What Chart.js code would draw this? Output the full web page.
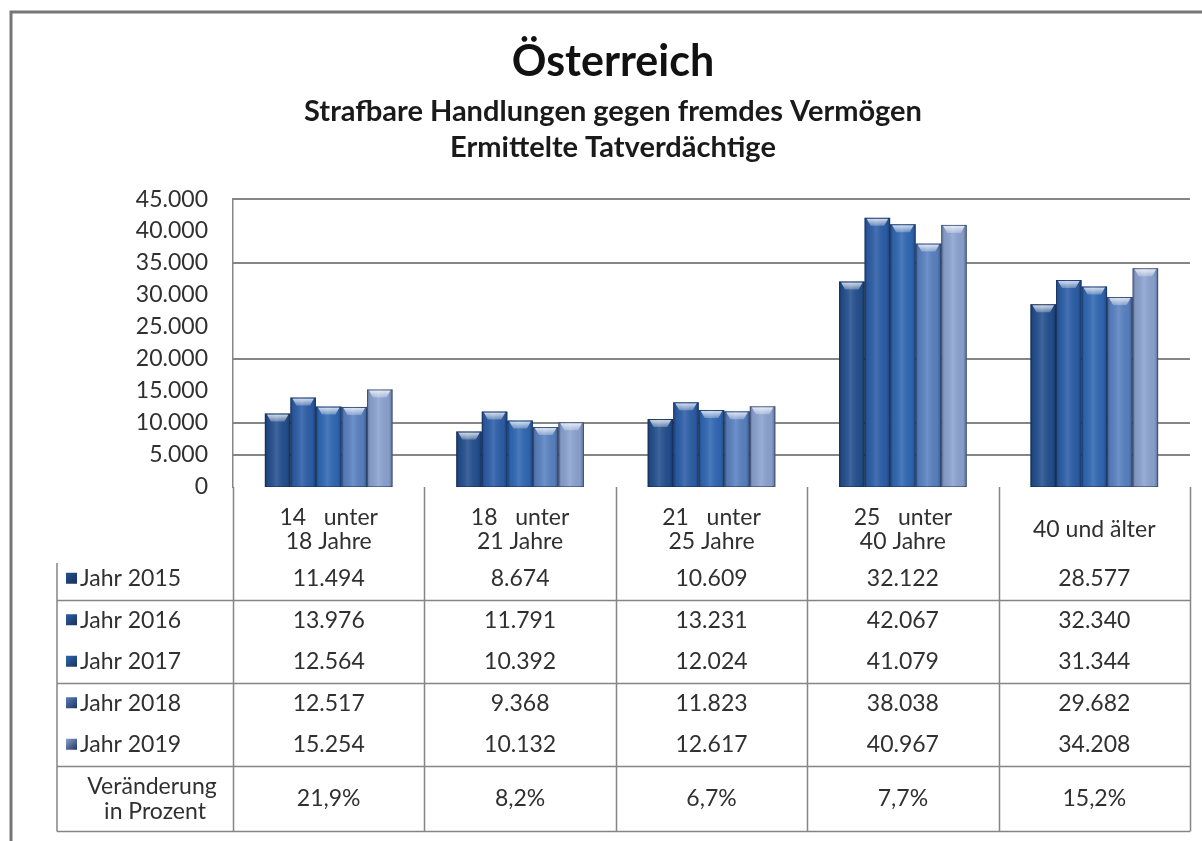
<!DOCTYPE html>
<html lang="de">
<head>
<meta charset="utf-8">
<title>Österreich – Strafbare Handlungen gegen fremdes Vermögen</title>
<script src="https://cdn.jsdelivr.net/npm/chart.js@4/dist/chart.umd.min.js"></script>
<style>
  html, body { margin: 0; padding: 0; background: #fff; }
  #chartBox { width: 1202px; height: 841px; }
</style>
</head>
<body>
<div id="chartBox"><canvas id="tatChart" width="1202" height="841"></canvas></div>
<script>
// age groups (x categories)
var categories = [
  ["14   unter", "18 Jahre"],
  ["18   unter", "21 Jahre"],
  ["21   unter", "25 Jahre"],
  ["25   unter", "40 Jahre"],
  ["40 und älter"]
];
var years = ["Jahr 2015", "Jahr 2016", "Jahr 2017", "Jahr 2018", "Jahr 2019"];

// Tatverdächtige per year
var values2015 = [11494, 8674, 10609, 32122, 28577];
var values2016 = [13976, 11791, 13231, 42067, 32340];
var values2017 = [12564, 10392, 12024, 41079, 31344];
var values2018 = [12517, 9368, 11823, 38038, 29682];
var values2019 = [15254, 10132, 12617, 40967, 34208];

// last table row
var changeLabel = ["Veränderung", "in Prozent"];
var changePercent = ["21,9%", "8,2%", "6,7%", "7,7%", "15,2%"];

// y axis
var yMax = 45000;
var yStep = 5000;
var gridShown = [5000, 10000, 20000, 35000, 45000];

var barColors = ["#24508f", "#2c5ea8", "#3068b4", "#5982c2", "#8ba3d1"];
var FONT = "Lato, 'Open Sans', sans-serif";
var TEXT = "#303030";
var LINE = "#858585";
var PAD_LEFT = 36;

function fmt(v) {
  return String(v).replace(/\B(?=(\d{3})+(?!\d))/g, ".");
}

var series = [values2015, values2016, values2017, values2018, values2019];

// outer frame (left and top edge)
var framePlugin = {
  id: "frame",
  beforeDraw: function(chart) {
    var c = chart.ctx;
    c.save();
    c.fillStyle = "#fff";
    c.fillRect(0, 0, chart.width, chart.height);
    c.strokeStyle = "#767676";
    c.lineWidth = 3;
    c.beginPath();
    c.moveTo(11, chart.height);
    c.lineTo(11, 12);
    c.lineTo(chart.width, 12);
    c.stroke();
    c.restore();
  }
};

// horizontal value lines, only some of the ticks get one
var gridPlugin = {
  id: "valueLines",
  beforeDatasetsDraw: function(chart) {
    var c = chart.ctx, y = chart.scales.y, area = chart.chartArea;
    c.save();
    c.strokeStyle = LINE;
    c.lineWidth = 1.8;
    c.beginPath();
    gridShown.forEach(function(v) {
      var py = Math.round(y.getPixelForValue(v));
      c.moveTo(area.left, py);
      c.lineTo(area.right, py);
    });
    c.stroke();
    c.restore();
  }
};

// glassy shading + bevelled top on every bar
var bevelPlugin = {
  id: "bevel",
  afterDatasetsDraw: function(chart) {
    var c = chart.ctx;
    c.save();
    chart.data.datasets.forEach(function(ds, di) {
      chart.getDatasetMeta(di).data.forEach(function(bar) {
        var p = bar.getProps(["x", "y", "base", "width"], true);
        var l = p.x - p.width / 2, r = p.x + p.width / 2, t = p.y, h = p.base - p.y;
        var g = c.createLinearGradient(l, 0, r, 0);
        g.addColorStop(0, "rgba(0,0,0,0.30)");
        g.addColorStop(0.12, "rgba(0,0,0,0.06)");
        g.addColorStop(0.45, "rgba(255,255,255,0.12)");
        g.addColorStop(0.85, "rgba(0,0,0,0.04)");
        g.addColorStop(1, "rgba(0,0,0,0.32)");
        c.fillStyle = g;
        c.fillRect(l, t, p.width, h);

        var cap = c.createLinearGradient(0, t, 0, t + 8);
        cap.addColorStop(0, "rgba(255,255,255,0.85)");
        cap.addColorStop(1, "rgba(255,255,255,0.25)");
        c.fillStyle = cap;
        c.beginPath();
        c.moveTo(l + 2, t + 1);
        c.lineTo(r - 2, t + 1);
        c.lineTo(r - 6, t + 8);
        c.lineTo(l + 6, t + 8);
        c.closePath();
        c.fill();

        c.strokeStyle = "rgba(20,35,70,0.45)";
        c.lineWidth = 1;
        c.strokeRect(l + 0.5, t + 0.5, p.width - 1, h - 1);
      });
    });
    c.restore();
  }
};

// data table under the plot, columns follow the x scale
var tablePlugin = {
  id: "dataTable",
  afterDraw: function(chart) {
    var c = chart.ctx;
    var x = chart.scales.x;
    var area = chart.chartArea;
    var colW = (area.right - area.left) / categories.length;
    var top = area.bottom;
    var rowTop = top + 71, rowH = 41.5;
    var bottom = rowTop + rowH * years.length + 66;
    var tableLeft = 57;

    c.save();
    c.strokeStyle = LINE;
    c.lineWidth = 1.5;
    c.beginPath();
    for (var i = 0; i <= categories.length; i++) {
      var vx = Math.round(area.left + i * colW) + 0.5;
      c.moveTo(vx, top);
      c.lineTo(vx, bottom);
    }
    c.moveTo(tableLeft, rowTop + 5);
    c.lineTo(tableLeft, bottom);
    [1, 3, 5].forEach(function(r) {
      var hy = Math.round(rowTop + r * rowH) + 0.5;
      c.moveTo(tableLeft, hy);
      c.lineTo(area.right, hy);
    });
    c.moveTo(tableLeft, bottom);
    c.lineTo(area.right, bottom);
    c.stroke();

    c.fillStyle = TEXT;
    c.font = "23px " + FONT;
    c.textAlign = "center";
    c.textBaseline = "middle";

    // category header
    categories.forEach(function(lines, ci) {
      var cx = x.getPixelForValue(ci);
      if (lines.length === 1) {
        c.fillText(lines[0], cx, top + 43);
      } else {
        c.fillText(lines[0], cx, top + 31);
        c.fillText(lines[1], cx, top + 55);
      }
    });

    // year rows
    years.forEach(function(label, ri) {
      var cy = rowTop + ri * rowH + rowH / 2;
      var mg = c.createLinearGradient(66, cy - 6, 77, cy + 6);
      mg.addColorStop(0, barColors[ri]);
      mg.addColorStop(1, "#1a2f55");
      c.fillStyle = mg;
      c.fillRect(66, cy - 6, 11, 11);
      c.fillStyle = TEXT;
      c.textAlign = "left";
      c.fillText(label, 80, cy);
      c.textAlign = "center";
      series[ri].forEach(function(v, ci) {
        c.fillText(fmt(v), x.getPixelForValue(ci), cy);
      });
    });

    // change row
    var chY = rowTop + rowH * years.length + 33;
    c.fillText(changeLabel[0], 152, chY - 12);
    c.fillText(changeLabel[1], 155, chY + 13);
    changePercent.forEach(function(t, ci) {
      c.fillText(t, x.getPixelForValue(ci), chY);
    });
    c.restore();
  }
};

var datasets = years.map(function(y, i) {
  return {
    label: y,
    data: series[i],
    backgroundColor: barColors[i],
    borderWidth: 0,
    categoryPercentage: 0.667,
    barPercentage: 1
  };
});

new Chart(document.getElementById("tatChart").getContext("2d"), {
  type: "bar",
  data: { labels: categories, datasets: datasets },
  plugins: [framePlugin, gridPlugin, bevelPlugin, tablePlugin],
  options: {
    responsive: false,
    devicePixelRatio: 1,
    animation: false,
    layout: { padding: { left: PAD_LEFT, right: 12, top: 0, bottom: 354 } },
    plugins: {
      legend: { display: false },
      tooltip: { enabled: false },
      title: {
        display: true,
        text: "Österreich",
        color: "#111",
        font: { family: FONT, size: 43, weight: "bold", lineHeight: 1.12 },
        padding: { top: 38, bottom: 0 }
      },
      subtitle: {
        display: true,
        text: ["Strafbare Handlungen gegen fremdes Vermögen", "Ermittelte Tatverdächtige"],
        color: "#1a1a1a",
        font: { family: FONT, size: 29, weight: "bold", lineHeight: 1.24 },
        padding: { top: 8, bottom: 33 }
      }
    },
    scales: {
      x: {
        display: false
      },
      y: {
        min: 0,
        max: yMax,
        afterFit: function(s) { s.width = 233 - PAD_LEFT; },
        ticks: {
          stepSize: yStep,
          padding: 25,
          color: TEXT,
          font: { family: FONT, size: 23 },
          callback: function(v) { return fmt(v); }
        },
        grid: { display: false, drawTicks: false },
        border: { display: true, color: LINE, width: 1.5 }
      }
    }
  }
});
</script>
</body>
</html>
